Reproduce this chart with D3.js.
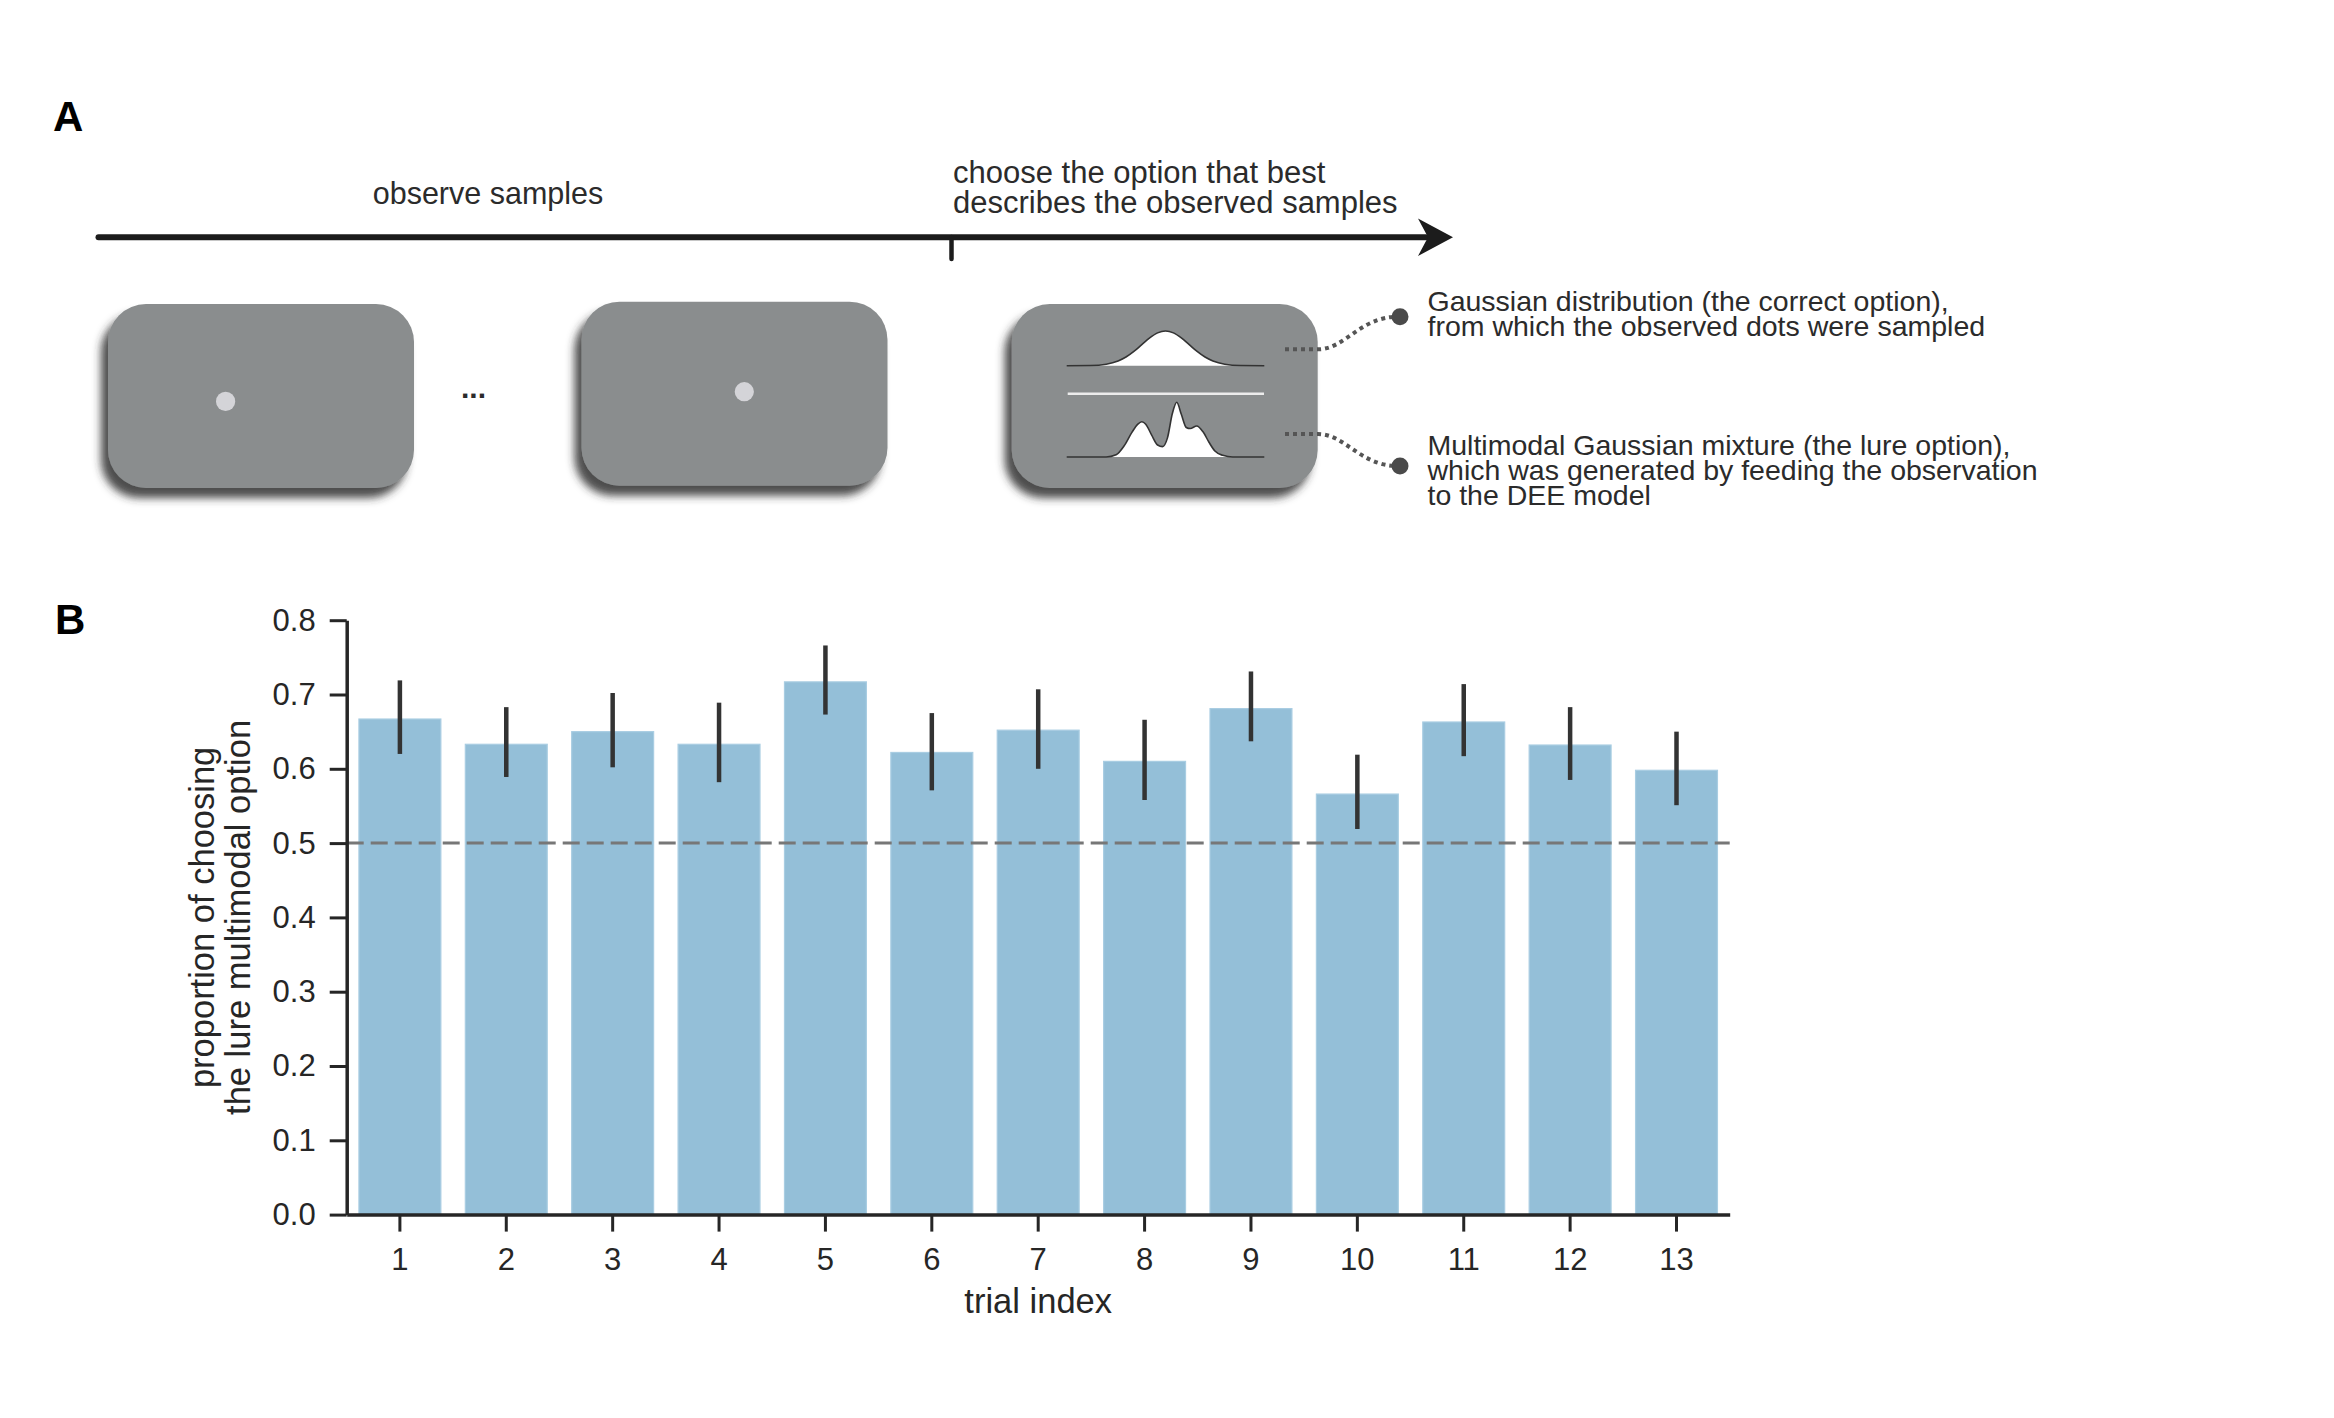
<!DOCTYPE html>
<html>
<head>
<meta charset="utf-8">
<script src="https://cdn.jsdelivr.net/npm/d3@7"></script>
<style>
  body { margin: 0; background: #fff; }
  text { font-family: "Liberation Sans", Arial, Helvetica, sans-serif; }
</style>
</head>
<body>
<svg id="fig"></svg>
<script>
// ---- data (panel B) ----
const trials = ['1', '2', '3', '4', '5', '6', '7', '8', '9', '10', '11', '12', '13'];
const proportions = [0.667, 0.633, 0.650, 0.633, 0.717, 0.622, 0.652, 0.610, 0.681, 0.566, 0.663, 0.632, 0.598];
const ciLow  = [0.620, 0.589, 0.602, 0.582, 0.673, 0.571, 0.600, 0.558, 0.637, 0.519, 0.617, 0.585, 0.551];
const ciHigh = [0.719, 0.683, 0.702, 0.689, 0.766, 0.675, 0.707, 0.666, 0.731, 0.619, 0.714, 0.683, 0.650];
const yTicks = [0, 0.1, 0.2, 0.3, 0.4, 0.5, 0.6, 0.7, 0.8];
const chanceLevel = 0.5;

// ---- icon curves (panel A) ----
const gaussX = [0, 12, 20, 26, 30, 34, 38, 42, 46, 50, 54, 58, 62, 66, 70, 74, 80, 88, 100];
const gaussY = [0, 0.004, 0.028, 0.086, 0.158, 0.261, 0.385, 0.508, 0.600, 0.634, 0.600, 0.508, 0.385, 0.261, 0.158, 0.086, 0.028, 0.004, 0];
const mixX = [0, 20, 25, 29, 33, 36, 38, 40, 43, 46, 48.5, 51, 53.5, 55.7, 58, 60.5, 62.5, 65.8, 69, 72, 75, 79, 84, 100];
const mixY = [0, 0, 0.04, 0.2, 0.45, 0.6, 0.645, 0.6, 0.4, 0.22, 0.19, 0.35, 0.8, 1.0, 0.78, 0.54, 0.52, 0.567, 0.46, 0.27, 0.11, 0.03, 0, 0];

// ---- texts ----
const gaussText = ['Gaussian distribution (the correct option),', 'from which the observed dots were sampled'];
const lureText = ['Multimodal Gaussian mixture (the lure option),', 'which was generated by feeding the observation', 'to the DEE model'];
const chooseText = ['choose the option that best', 'describes the observed samples'];

const W = 2334, H = 1418;
const ink = '#262626';

const svg = d3.select('#fig').attr('width', W).attr('height', H);
svg.append('rect').attr('width', W).attr('height', H).attr('fill', '#fff');

const defs = svg.append('defs');
defs.append('filter')
    .attr('id', 'shadow')
    .attr('x', '-20%').attr('y', '-20%')
    .attr('width', '140%').attr('height', '150%')
  .append('feDropShadow')
    .attr('dx', -7).attr('dy', 10)
    .attr('stdDeviation', 4)
    .attr('flood-color', '#2e2e2e')
    .attr('flood-opacity', 0.85);

// panel letters
svg.append('text').attr('x', 53).attr('y', 131).text('A')
    .attr('font-size', 42).attr('font-weight', 'bold').attr('fill', '#000');
svg.append('text').attr('x', 55).attr('y', 634).text('B')
    .attr('font-size', 42).attr('font-weight', 'bold').attr('fill', '#000');

// ================= panel A =================
const gA = svg.append('g');

// timeline
gA.append('line')
    .attr('x1', 98.5).attr('y1', 237.3).attr('x2', 1426).attr('y2', 237.3)
    .attr('stroke', '#1c1c1c').attr('stroke-width', 6).attr('stroke-linecap', 'round');
gA.append('path')
    .attr('d', 'M1453,237.3 L1418,218.5 L1428,237.3 L1418,256 Z')
    .attr('fill', '#1c1c1c');
gA.append('line')
    .attr('x1', 951.5).attr('y1', 237).attr('x2', 951.5).attr('y2', 259)
    .attr('stroke', '#1c1c1c').attr('stroke-width', 4.5).attr('stroke-linecap', 'round');

gA.append('text').attr('x', 488).attr('y', 203.5)
    .attr('text-anchor', 'middle').attr('font-size', 30.5).attr('fill', '#2b2b2b')
    .text('observe samples');
gA.append('text').attr('font-size', 31).attr('fill', '#2b2b2b')
  .selectAll('tspan').data(chooseText).join('tspan')
    .attr('x', 953).attr('y', (d, i) => 182.5 + i * 30.5)
    .text(d => d);

// screens
const screens = [
  { x: 108, y: 304 },
  { x: 581.5, y: 301.7 },
  { x: 1011.7, y: 304 }
];
const scrW = 306, scrH = 184;
gA.selectAll('rect.screen').data(screens).join('rect')
    .attr('class', 'screen')
    .attr('x', d => d.x).attr('y', d => d.y)
    .attr('width', scrW).attr('height', scrH)
    .attr('rx', 38).attr('ry', 38)
    .attr('fill', '#8a8d8e')
    .attr('filter', 'url(#shadow)');

// sample dots
gA.append('circle').attr('cx', 225.6).attr('cy', 401.4).attr('r', 9.6).attr('fill', '#d4d4d8');
gA.append('circle').attr('cx', 744.3).attr('cy', 391.7).attr('r', 9.6).attr('fill', '#d4d4d8');
gA.append('text').attr('x', 473.5).attr('y', 398)
    .attr('text-anchor', 'middle').attr('font-size', 30).attr('font-weight', 'bold')
    .attr('fill', '#2b2b2b').text('...');

// option icons inside the last screen
const cx = d3.scaleLinear().domain([0, 100]).range([1066.7, 1264.3]);
const cy = d3.scaleLinear().domain([0, 1]).range([0, -54.7]);

function drawCurve(xs, ys, base) {
  const pts = xs.map((v, i) => [v, ys[i]]);
  const area = d3.area()
      .x(d => cx(d[0])).y0(base).y1(d => base + cy(d[1]))
      .curve(d3.curveMonotoneX);
  const line = d3.line()
      .x(d => cx(d[0])).y(d => base + cy(d[1]))
      .curve(d3.curveMonotoneX);
  gA.append('path').attr('d', area(pts)).attr('fill', '#fff');
  gA.append('path').attr('d', line(pts))
      .attr('fill', 'none').attr('stroke', '#333').attr('stroke-width', 1.6);
}
drawCurve(gaussX, gaussY, 365.7);
drawCurve(mixX, mixY, 457);
gA.append('line')
    .attr('x1', 1067.7).attr('x2', 1264).attr('y1', 393.7).attr('y2', 393.7)
    .attr('stroke', '#ececec').attr('stroke-width', 2.5);

// dotted connectors
const connectors = [
  'M1285,349.3 L1318,349.3 C1345,349.3 1360,316.7 1398,316.7',
  'M1285,434 L1318,434 C1345,434 1360,466 1398,466'
];
gA.selectAll('path.conn').data(connectors).join('path')
    .attr('class', 'conn')
    .attr('d', d => d)
    .attr('fill', 'none').attr('stroke', '#555')
    .attr('stroke-width', 4).attr('stroke-dasharray', '4 4');
gA.append('circle').attr('cx', 1400).attr('cy', 316.7).attr('r', 8.5).attr('fill', '#4a4a4a');
gA.append('circle').attr('cx', 1400).attr('cy', 466).attr('r', 8.5).attr('fill', '#4a4a4a');

gA.append('text').attr('font-size', 28.5).attr('fill', '#2b2b2b')
  .selectAll('tspan').data(gaussText).join('tspan')
    .attr('x', 1427.5).attr('y', (d, i) => 310.5 + i * 25.5)
    .text(d => d);
gA.append('text').attr('font-size', 28.5).attr('fill', '#2b2b2b')
  .selectAll('tspan').data(lureText).join('tspan')
    .attr('x', 1427.5).attr('y', (d, i) => 455 + i * 25)
    .text(d => d);

// ================= panel B =================
const x = d3.scaleBand()
    .domain(trials)
    .range([346.7, 1729.7])
    .paddingInner(0.23)
    .paddingOuter(0.115);
const y = d3.scaleLinear().domain([0, 0.8]).range([1214.6, 620.2]);

const gB = svg.append('g');

gB.selectAll('rect.bar').data(trials).join('rect')
    .attr('class', 'bar')
    .attr('x', d => x(d))
    .attr('width', x.bandwidth())
    .attr('y', (d, i) => y(proportions[i]))
    .attr('height', (d, i) => y(0) - y(proportions[i]))
    .attr('fill', '#94bfd8')
    .attr('stroke', '#a9cde2')
    .attr('stroke-width', 1.2);

gB.append('line')
    .attr('x1', x.range()[0]).attr('x2', x.range()[1])
    .attr('y1', y(chanceLevel)).attr('y2', y(chanceLevel))
    .attr('stroke', '#777').attr('stroke-width', 3)
    .attr('stroke-dasharray', '17 7');

gB.selectAll('line.err').data(trials).join('line')
    .attr('class', 'err')
    .attr('x1', d => x(d) + x.bandwidth() / 2)
    .attr('x2', d => x(d) + x.bandwidth() / 2)
    .attr('y1', (d, i) => y(ciLow[i]))
    .attr('y2', (d, i) => y(ciHigh[i]))
    .attr('stroke', '#333').attr('stroke-width', 4.5);

const yAxis = gB.append('g')
    .attr('transform', `translate(${x.range()[0]},0)`)
    .call(d3.axisLeft(y).tickValues(yTicks).tickFormat(d3.format('.1f'))
      .tickSize(17).tickSizeOuter(0).tickPadding(14));
const xAxis = gB.append('g')
    .attr('transform', `translate(0,${y(0)})`)
    .call(d3.axisBottom(x).tickSize(17).tickSizeOuter(0).tickPadding(16));

[yAxis, xAxis].forEach(ax => {
  ax.select('.domain').attr('stroke', ink).attr('stroke-width', 3.5);
  ax.selectAll('.tick line').attr('stroke', ink).attr('stroke-width', 3);
  ax.selectAll('.tick text')
      .attr('fill', ink)
      .attr('font-size', 31)
      .attr('font-family', '"Liberation Sans", Arial, Helvetica, sans-serif');
});

gB.append('text')
    .attr('x', (x.range()[0] + x.range()[1]) / 2).attr('y', 1313)
    .attr('text-anchor', 'middle').attr('font-size', 34.5).attr('fill', ink)
    .text('trial index');

const yMid = (y.range()[0] + y.range()[1]) / 2;
const yLabel = ['proportion of choosing', 'the lure multimodal option'];
gB.selectAll('text.ylab').data(yLabel).join('text')
    .attr('class', 'ylab')
    .attr('transform', (d, i) => `translate(${214 + i * 36},${yMid}) rotate(-90)`)
    .attr('text-anchor', 'middle').attr('font-size', 34.5).attr('fill', ink)
    .text(d => d);
</script>
</body>
</html>
